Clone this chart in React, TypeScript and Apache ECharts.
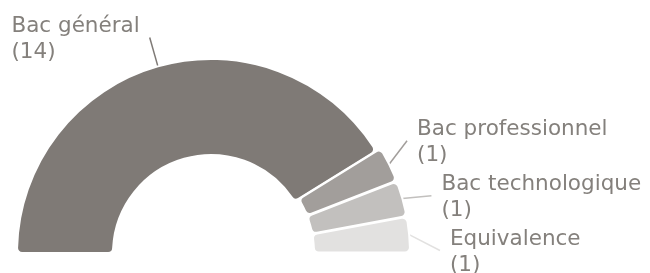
import React, { useEffect, useRef } from "react";
import * as echarts from "echarts";

const categories = ["Bac général", "Bac professionnel", "Bac technologique", "Equivalence"];
const values = [14, 1, 1, 1];
const colors = ["#7f7a76", "#a29e9b", "#c2c0be", "#e2e1e0"];
const offsetSelected = [false, true, true, true];
const lineLengths = [30, 20, 35, 40];

export default function App() {
  const ref = useRef<HTMLDivElement>(null);
  useEffect(() => {
    if (!ref.current) return;
    const chart = echarts.init(ref.current, null, { renderer: "svg" });
    const data = categories.map((name, i) => ({
      name,
      value: values[i],
      selected: offsetSelected[i],
      itemStyle: { color: colors[i] },
      select: { itemStyle: { color: colors[i] } },
      labelLine: { length: lineLengths[i] },
    }));
    const textStyle = {
      color: "#84807c",
      fontFamily: "DejaVu Sans",
      fontSize: 21.5,
      lineHeight: 26,
    };
    chart.setOption({
      animation: false,
      series: [
        {
          type: "pie",
          center: [211, 253],
          radius: [98, 194],
          startAngle: 180,
          endAngle: 0,
          clockwise: true,
          selectedMode: "multiple",
          selectedOffset: 5,
          avoidLabelOverlap: true,
          emphasis: { disabled: true },
          itemStyle: { borderColor: "#ffffff", borderWidth: 2, borderRadius: 5 },
          label: {
            show: true,
            position: "outside",
            formatter: "{t|{b}}\n{t|({c})}",
            ...textStyle,
            distanceToLabelLine: 10,
            rich: { t: { ...textStyle, align: "left" } },
          },
          labelLine: { show: true, length: 30, length2: 0, smooth: false, lineStyle: { width: 1.5 } },
          data,
        },
      ],
    });
    return () => chart.dispose();
  }, []);
  return (
    <div style={{ position: "fixed", left: 0, top: 0, width: 650, height: 273, overflow: "hidden" }}>
      <div ref={ref} style={{ width: 650, height: 278 }} />
    </div>
  );
}
